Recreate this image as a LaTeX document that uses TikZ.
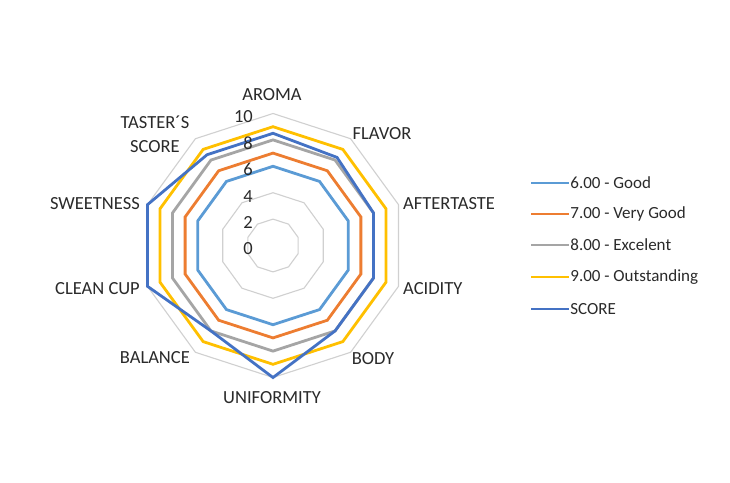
\documentclass[tikz,border=0pt]{standalone}
\usepackage{fontspec}
\setmainfont{Carlito}
\definecolor{cgood}{HTML}{5B9BD5}
\definecolor{cvgood}{HTML}{ED7D31}
\definecolor{cexc}{HTML}{A5A5A5}
\definecolor{cout}{HTML}{FFC000}
\definecolor{cscore}{HTML}{4472C4}
\definecolor{cgrid}{HTML}{D0D0D0}
\definecolor{ctext}{HTML}{2A2A2A}
\begin{document}
\begin{tikzpicture}[x=1pt,y=1pt,
  lab/.style={font=\fontsize{18.5}{23.5}\selectfont, text=ctext, inner sep=0pt},
  leg/.style={font=\fontsize{17}{20}\selectfont, text=ctext, inner sep=0pt},
  ser/.style={line width=2.8pt, line join=miter},
  gridring/.style={draw=cgrid, line width=1.1pt}]
\useasboundingbox (0,0) rectangle (730,-482);
\fill[white] (0,0) rectangle (730,-482);
\begin{scope}[shift={(273,-245.5)}, x=13.2pt, y=13.2pt]
  \foreach \r in {2,4,...,10}
    \draw[gridring] (90:\r) \foreach \a in {54,18,...,-234} { -- (\a:\r) } -- cycle;
  \draw[ser,cgood]  (90:6) \foreach \a in {54,18,...,-234} { -- (\a:6) } -- cycle;
  \draw[ser,cvgood] (90:7) \foreach \a in {54,18,...,-234} { -- (\a:7) } -- cycle;
  \draw[ser,cexc]   (90:8) \foreach \a in {54,18,...,-234} { -- (\a:8) } -- cycle;
  \draw[ser,cout]   (90:9) \foreach \a in {54,18,...,-234} { -- (\a:9) } -- cycle;
  \draw[ser,cscore] (90:8.5) -- (54:8.25) -- (18:8) -- (-18:8) -- (-54:8) -- (-90:10)
     -- (-126:8) -- (-162:10) -- (162:10) -- (126:8.5) -- cycle;
\end{scope}
% tick labels
\foreach \k in {0,...,5} {
  \pgfmathtruncatemacro{\v}{2*\k}
  \node[lab, anchor=east] (t\k) at (253, -249+26.4*\k) {\v};
}
% axis labels
\node[lab] (aroma) at (272,-95) {AROMA};
\node[lab] (flavor) at (382,-134) {FLAVOR};
\node[lab, anchor=west] (after) at (403,-203.5) {AFTERTASTE};
\node[lab, anchor=west] (acid) at (403,-288.5) {ACIDITY};
\node[lab] (body) at (373,-359) {BODY};
\node[lab] (unif) at (272,-397.5) {UNIFORMITY};
\node[lab, anchor=east] (bal) at (190,-357.5) {BALANCE};
\node[lab, anchor=east] (clean) at (140,-289) {CLEAN CUP};
\node[lab, anchor=east] (sweet) at (140,-203.5) {SWEETNESS};
\node[lab, align=center] (taster) at (155,-134.3) {TASTER´S\\SCORE};
% legend
\draw[cgood, line width=2.8pt]  (531,-183) -- (569,-183) node[leg, anchor=west] (l1) {6.00 - Good};
\draw[cvgood, line width=2.8pt] (531,-214) -- (569,-214) node[leg, anchor=west] (l2) {7.00 - Very Good};
\draw[cexc, line width=2.8pt]   (531,-245) -- (569,-245) node[leg, anchor=west] (l3) {8.00 - Excelent};
\draw[cout, line width=2.8pt]   (531,-277) -- (569,-277) node[leg, anchor=west] (l4) {9.00 - Outstanding};
\draw[cscore, line width=2.8pt] (531,-309) -- (569,-309) node[leg, anchor=west] (l5) {SCORE};
\end{tikzpicture}
\end{document}
